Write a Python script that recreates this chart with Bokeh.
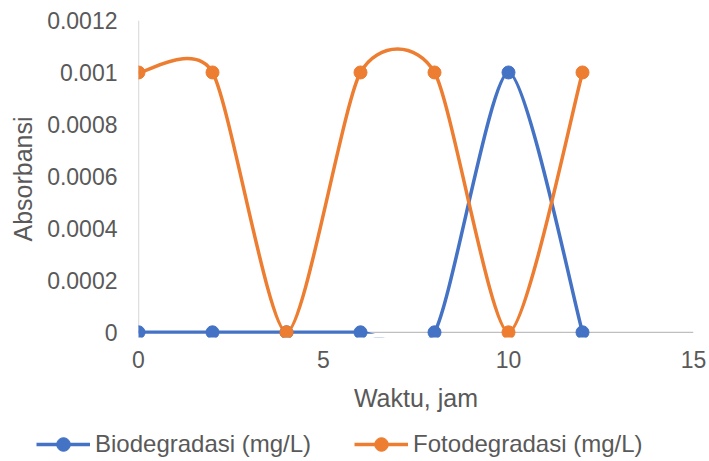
from bokeh.plotting import figure
from bokeh.models import Range1d, Legend, LegendItem, FixedTicker, Column
from bokeh.embed import file_html
from bokeh.resources import INLINE

# ---- data ----
waktu = [0, 2, 4, 6, 8, 10, 12]
biodegradasi = [0, 0, 0, 0, 0, 0.001, 0]
fotodegradasi = [0.001, 0.001, 0, 0.001, 0.001, 0, 0.001]
x_ticks = [0, 5, 10, 15]
y_ticks = [0, 0.0002, 0.0004, 0.0006, 0.0008, 0.001, 0.0012]
y_tick_labels = ["0", "0.0002", "0.0004", "0.0006", "0.0008", "0.001", "0.0012"]
series_names = ["Biodegradasi (mg/L)", "Fotodegradasi (mg/L)"]

BLUE = "#4472C4"
ORANGE = "#ED7D31"
TEXT = "#595959"
AXIS = "#BFBFBF"
FONT = "Liberation Sans"
COLORS = [BLUE, ORANGE]


def smooth_segments(xs, ys, f=0.12):
    """Bezier control points for an Excel-like smoothed line."""
    n = len(xs)
    P = list(zip(xs, ys))
    out = dict(x0=[], y0=[], x1=[], y1=[], cx0=[], cy0=[], cx1=[], cy1=[])
    for i in range(n - 1):
        pm = P[max(i - 1, 0)]
        p0 = P[i]
        p1 = P[i + 1]
        pp = P[min(i + 2, n - 1)]
        out["x0"].append(p0[0]); out["y0"].append(p0[1])
        out["x1"].append(p1[0]); out["y1"].append(p1[1])
        out["cx0"].append(p0[0] + f * (p1[0] - pm[0]))
        out["cy0"].append(p0[1] + f * (p1[1] - pm[1]))
        out["cx1"].append(p1[0] - f * (pp[0] - p0[0]))
        out["cy1"].append(p1[1] - f * (pp[1] - p0[1]))
    return out


y_bottom = -0.00002
p = figure(output_backend="svg", toolbar_location=None,
           x_range=Range1d(0, 15), y_range=Range1d(y_bottom, 0.0012),
           min_border_left=138, min_border_right=16, min_border_top=20,
           min_border_bottom=88)
p.frame_width = 555
p.frame_height = 317
p.outline_line_color = None
p.xgrid.visible = False
p.ygrid.visible = False

# axis lines drawn as segments so they stop at 0
p.segment(x0=[0], y0=[0], x1=[15], y1=[0], line_color=AXIS, line_width=1.3)
p.segment(x0=[0], y0=[0], x1=[0], y1=[0.0012], line_color=AXIS, line_width=1.3)

for ys, col in [(biodegradasi, BLUE), (fotodegradasi, ORANGE)]:
    seg = smooth_segments(waktu, ys)
    p.bezier(**seg, line_color=col, line_width=3.5)

# clip anything below the zero line (as the original plot area does)
p.quad(left=[-1], right=[16], bottom=[y_bottom * 2], top=[-0.0000055],
       fill_color="white", line_color=None)

for ys, col in [(biodegradasi, BLUE), (fotodegradasi, ORANGE)]:
    p.scatter(waktu, ys, size=13, fill_color=col, line_color=col)

for ax in (p.xaxis[0], p.yaxis[0]):
    ax.axis_line_color = None
    ax.major_tick_line_color = None
    ax.minor_tick_line_color = None
    ax.major_label_text_font = FONT
    ax.major_label_text_color = TEXT
    ax.major_label_text_font_size = "23px"
    ax.axis_label_text_font = FONT
    ax.axis_label_text_color = TEXT
    ax.axis_label_text_font_size = "25px"
    ax.axis_label_text_font_style = "normal"

p.xaxis.ticker = FixedTicker(ticks=x_ticks)
p.yaxis.ticker = FixedTicker(ticks=y_ticks)
p.yaxis.major_label_overrides = {t: l for t, l in zip(y_ticks, y_tick_labels)}
p.xaxis.axis_label = "Waktu, jam"
p.yaxis.axis_label = "Absorbansi"
p.yaxis.major_label_standoff = 15
p.yaxis.axis_label_standoff = 7
p.xaxis.major_label_standoff = 7
p.xaxis.axis_label_standoff = 13

# ---- legend strip below the chart ----
lg = figure(width=709, height=36, output_backend="svg", toolbar_location=None,
            x_range=Range1d(0, 709), y_range=Range1d(0, 36), min_border=0)
lg.axis.visible = False
lg.xgrid.visible = False
lg.ygrid.visible = False
lg.outline_line_color = None
items = []
for name, col in zip(series_names, COLORS):
    # legend keys only (placed outside the visible range)
    ln = lg.line([-20, -10], [-20, -20], line_color=col, line_width=3.5)
    mk = lg.scatter([-15], [-20], size=13, fill_color=col, line_color=col)
    items.append(LegendItem(label=name, renderers=[ln, mk]))
legend = Legend(items=items, location=(36, 0), orientation="horizontal",
                glyph_width=54, glyph_height=34, label_standoff=5, spacing=43,
                padding=0, margin=0, border_line_color=None,
                background_fill_alpha=0,
                label_text_font=FONT, label_text_font_size="24px",
                label_text_color=TEXT)
lg.add_layout(legend, "center")

layout = Column(children=[p, Column(children=[lg])], spacing=0)
open("out.html", "w").write(file_html(layout, INLINE))
